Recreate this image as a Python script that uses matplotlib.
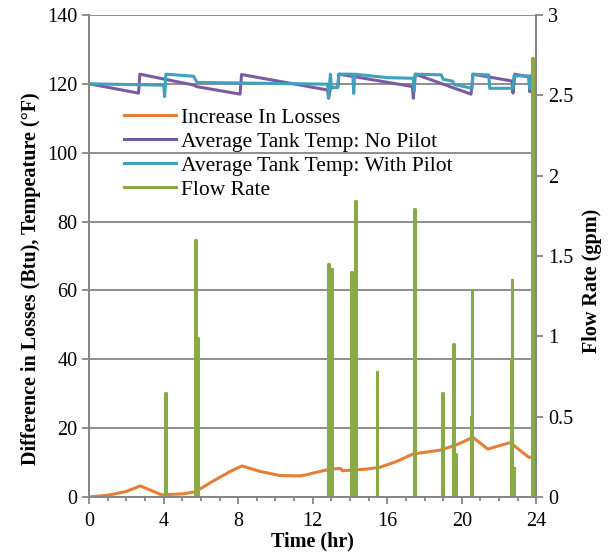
import matplotlib
matplotlib.use('Agg')
import matplotlib.pyplot as plt
from matplotlib.ticker import MultipleLocator

plt.rcParams['font.family'] = ['Liberation Serif', 'DejaVu Serif']

# Increase in losses (Btu)
loss_t = [0, 1.0, 2.0, 2.74, 3.9, 5.0, 5.7, 6.68, 7.57, 8.2, 9.18, 10.25, 11.33, 11.7,
          12.85, 13.48, 13.6, 14.9, 15.6, 16.5, 17.4, 18.85, 19.7, 20.6, 21.4, 22.6, 23.6, 24.0]
loss_v = [0, 0.5, 1.6, 3.2, 0.6, 0.9, 1.5, 4.7, 7.4, 9.0, 7.4, 6.2, 6.1, 6.5,
          8.0, 8.3, 7.6, 8.1, 8.6, 10.3, 12.5, 13.6, 15.1, 17.3, 13.9, 15.8, 11.5, 11.7]

# Average tank temperature, no pilot (F)
nop_t = [0, 2.65, 2.72, 5.65, 5.75, 8.1, 8.18, 12.8, 12.85, 12.95, 13.35, 13.4, 14.1,
         17.35, 17.4, 17.5, 20.5, 20.6, 22.7, 22.75, 22.85, 23.6, 23.65, 23.75, 24.0]
nop_v = [120.0, 117.3, 122.8, 119.6, 119.2, 117.0, 122.7, 118.2, 115.8, 118.8, 119.0, 122.8, 122.2,
         119.2, 115.8, 122.8, 117.0, 122.8, 120.8, 117.3, 122.8, 122.0, 117.7, 122.5, 122.3]

# Average tank temperature, with pilot (F)
wp_t = [0, 4.0, 4.05, 4.12, 5.6, 5.8, 12.8, 12.85, 12.95, 13.0, 13.35, 13.4, 14.15, 14.2,
        14.25, 16.0, 17.4, 17.45, 17.5, 18.9, 19.0, 19.5, 19.6, 20.55, 20.6, 21.45, 21.5,
        22.75, 22.8, 23.6, 23.65, 23.75, 23.8, 24.0]
wp_v = [120.0, 119.6, 116.3, 122.8, 122.2, 120.4, 119.9, 116.0, 122.8, 119.0, 119.0, 122.8, 122.8, 117.2,
        122.8, 121.8, 121.6, 118.0, 122.8, 122.6, 121.3, 120.8, 119.8, 118.7, 122.8, 122.6, 118.7,
        118.7, 122.3, 122.3, 118.7, 118.7, 122.5, 122.5]

# Flow rate draws (gpm)
draw_t = [4.08, 5.7, 5.8, 12.85, 13.0, 14.1, 14.3, 15.45, 17.45, 18.95, 19.55, 19.65,
          20.5, 20.55, 22.65, 22.7, 22.8, 23.8]
draw_v = [0.65, 1.6, 0.99, 1.45, 1.42, 1.40, 1.84, 0.78, 1.79, 0.65, 0.95, 0.27,
          0.5, 1.29, 0.85, 1.35, 0.18, 2.73]

flow_t, flow_v = [0], [0]
for t, v in zip(draw_t, draw_v):
    flow_t += [t - 0.02, t - 0.02, t + 0.02, t + 0.02]
    flow_v += [0, v, v, 0]
flow_t.append(24)
flow_v.append(0)

fig, ax = plt.subplots(figsize=(6.15, 5.54), dpi=100)
fig.subplots_adjust(left=0.145, right=0.872, top=0.973, bottom=0.103)
ax2 = ax.twinx()

grid_c = '#868686'
l1, = ax.plot(loss_t, loss_v, color='#E67F35', lw=2.2, label='Increase In Losses')
l2, = ax.plot(nop_t, nop_v, color='#7B5AA3', lw=2.2, label='Average Tank Temp: No Pilot')
l3, = ax.plot(wp_t, wp_v, color='#3DA2BE', lw=2.2, label='Average Tank Temp: With Pilot')
l4, = ax2.plot(flow_t, flow_v, color='#8AAA47', lw=2.2, label='Flow Rate')

ax.set_xlim(0, 24)
ax.set_ylim(0, 140)
ax2.set_ylim(0, 3)
ax.xaxis.set_major_locator(MultipleLocator(4))
ax.xaxis.set_minor_locator(MultipleLocator(1))
ax.yaxis.set_major_locator(MultipleLocator(20))
ax2.set_yticks([0, 0.5, 1, 1.5, 2, 2.5, 3])
ax2.set_yticklabels(['0', '0.5', '1', '1.5', '2', '2.5', '3'])

ax.grid(axis='y', color=grid_c, lw=1.3)
ax.set_axisbelow(True)
for a in (ax, ax2):
    a.spines['top'].set_visible(False)
    for s in ('left', 'right', 'bottom'):
        a.spines[s].set_color(grid_c)
        a.spines[s].set_linewidth(1.3)
    a.tick_params(which='both', colors=grid_c, labelcolor='black', labelsize=14.5,
                  direction='out', length=5, width=1.3)
ax.tick_params(which='minor', length=3)
ax.tick_params(axis='x', pad=6)

ax.set_xlabel('Time (hr)', fontsize=14.5, fontweight='bold')
ax.xaxis.set_label_coords(0.5, -0.072)
ax.set_ylabel('Difference in Losses (Btu), Tempeature (\u00b0F)', fontsize=14.5,
              fontweight='bold')
ax.yaxis.set_label_coords(-0.107, 0.452)
ax2.set_ylabel('Flow Rate (gpm)', fontsize=14.5, fontweight='bold')
ax2.yaxis.set_label_coords(1.103, 0.448)

ax2.legend(handles=[l1, l2, l3, l4], loc='upper left', bbox_to_anchor=(0.059, 0.826),
           frameon=False, fontsize=15.5, labelspacing=0.19, handlelength=2.4, handletextpad=0.25,
           borderaxespad=0)

fig.savefig('out.png')
